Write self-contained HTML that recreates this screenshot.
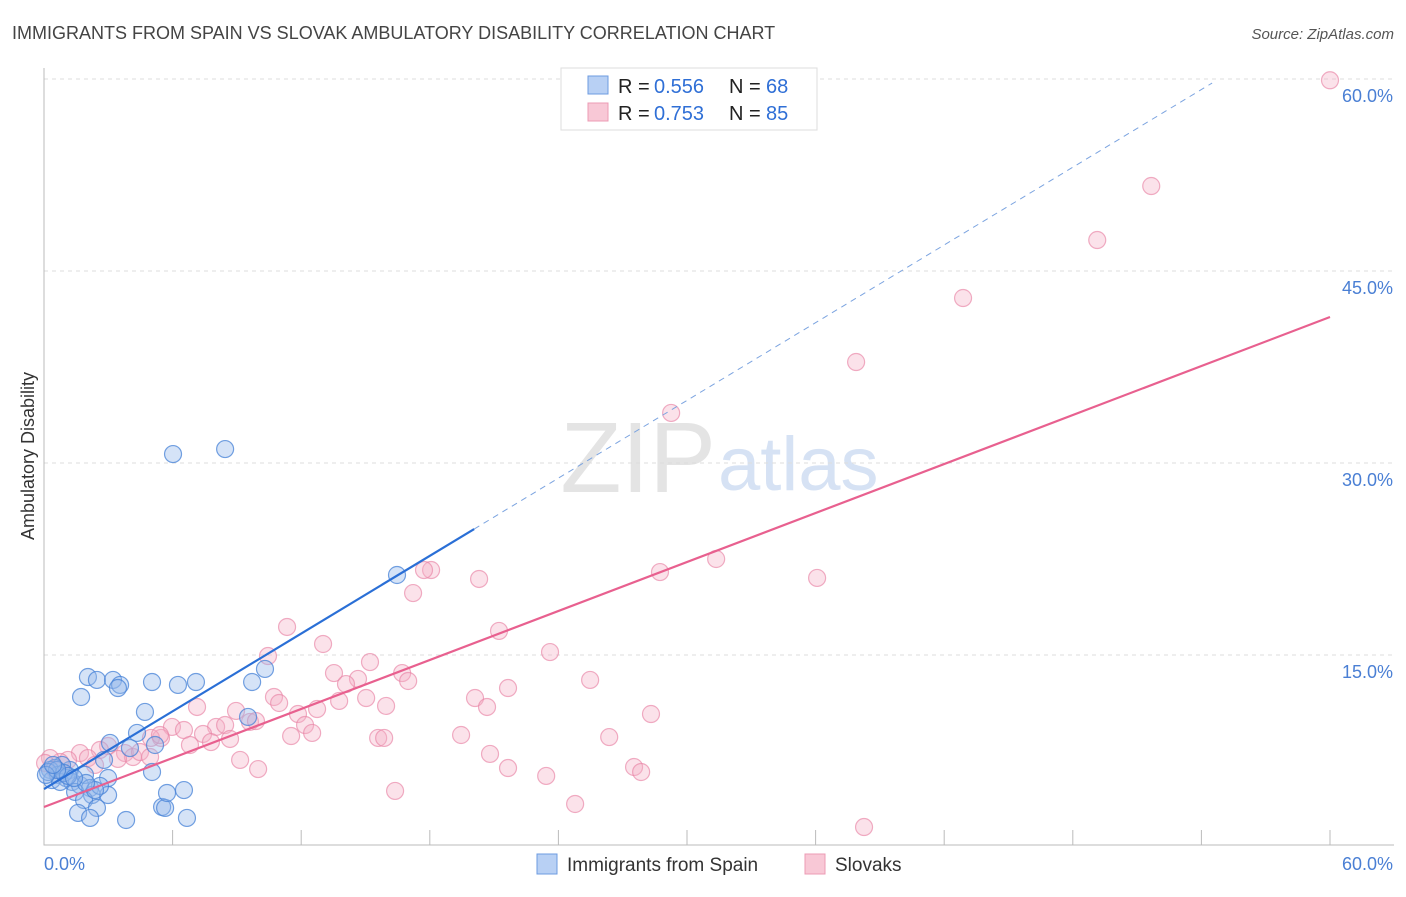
<!DOCTYPE html>
<html><head><meta charset="utf-8">
<style>
body{margin:0;background:#fff;font-family:"Liberation Sans",sans-serif;}
svg text{font-family:"Liberation Sans",sans-serif;}
</style></head>
<body>
<svg id="chart" width="1406" height="892" viewBox="0 0 1406 892" xmlns="http://www.w3.org/2000/svg">
<text x="12" y="39" font-size="18" fill="#444">IMMIGRANTS FROM SPAIN VS SLOVAK AMBULATORY DISABILITY CORRELATION CHART</text>
<text x="1394" y="39" font-size="15" fill="#555" text-anchor="end" font-style="italic">Source: ZipAtlas.com</text>
<text x="716" y="492" font-size="100" fill="#e4e4e4" text-anchor="end" font-family="Liberation Serif">ZIP</text>
<text x="718" y="490" font-size="76" fill="#d6e2f4">atlas</text>
<g id="grid"></g>
<g id="axes"></g>
<g id="marks"></g>
<text transform="translate(34,456) rotate(-90)" font-size="18" fill="#333" text-anchor="middle">Ambulatory Disability</text>
<g>
<rect x="561" y="68" width="256" height="62" fill="#fff" stroke="#ddd"/>
<rect x="588" y="76" width="20" height="18" fill="#b8d0f4" stroke="#6d9be0"/>
<rect x="588" y="103" width="20" height="18" fill="#f8c8d6" stroke="#ec9bb4"/>
<text x="618" y="93" font-size="20" fill="#222">R =</text>
<text x="654" y="93" font-size="20" fill="#2f6fd6">0.556</text>
<text x="729" y="93" font-size="20" fill="#222">N =</text>
<text x="766" y="93" font-size="20" fill="#2f6fd6">68</text>
<text x="618" y="120" font-size="20" fill="#222">R =</text>
<text x="654" y="120" font-size="20" fill="#2f6fd6">0.753</text>
<text x="729" y="120" font-size="20" fill="#222">N =</text>
<text x="766" y="120" font-size="20" fill="#2f6fd6">85</text>
</g>
<g>
<rect x="537" y="854" width="20" height="20" fill="#b8d0f4" stroke="#6d9be0"/>
<text x="567" y="871" font-size="19" fill="#333">Immigrants from Spain</text>
<rect x="805" y="854" width="20" height="20" fill="#f8c8d6" stroke="#ec9bb4"/>
<text x="835" y="871" font-size="19" fill="#333">Slovaks</text>
</g>
</svg>
<script>
const yTicks=[15,30,45,60];
const yTickLabels=["15.0%","30.0%","45.0%","60.0%"];
const xEndLabels=["0.0%","60.0%"];
const blueX=[6.02,8.45,16.47,10.31,9.71,7.09,6.25,5.04,2.05,2.47,3.22,3.55,3.45,1.73,4.71,4.34,5.18,3.08,4.01,2.80,5.04,2.99,1.21,0.84,0.51,0.28,0.65,1.03,1.31,1.68,1.91,2.15,1.45,2.24,2.99,1.87,2.47,1.59,2.15,3.83,5.51,5.65,6.67,5.74,6.53,9.52,0.37,0.75,0.19,0.93,1.12,2.61,2.38,1.96,1.40,0.61,0.09,0.42];
const blueY=[30.70,31.09,21.25,13.91,12.89,12.89,12.66,12.89,13.28,13.05,13.05,12.66,12.42,11.72,10.55,8.91,7.97,8.13,7.73,6.80,5.86,5.39,6.02,6.41,6.17,6.02,5.63,5.39,5.08,4.84,5.63,4.61,4.30,4.06,4.06,3.67,3.05,2.66,2.27,2.11,3.13,3.05,2.27,4.22,4.45,10.16,5.23,5.08,5.86,5.78,5.55,4.77,4.45,5.00,5.39,6.02,5.63,6.41];
const pinkX=[60.0,51.66,49.14,42.88,37.89,29.26,31.36,28.74,36.07,20.30,18.06,17.73,17.22,11.34,21.23,13.02,23.61,10.45,15.21,13.53,16.71,14.65,16.99,14.09,25.48,21.65,20.11,20.67,15.03,13.77,10.73,10.97,11.85,12.74,15.96,28.32,8.96,7.14,5.97,6.53,8.03,8.45,9.61,9.89,12.18,12.51,7.42,8.68,5.46,4.99,11.53,15.59,15.87,19.46,26.37,6.81,7.79,2.99,2.61,1.68,2.05,3.78,4.15,4.48,4.95,3.45,1.12,0.75,0.28,0.05,9.15,9.99,20.81,21.65,23.43,27.53,27.86,16.38,24.78,38.26,5.41,2.38,0.51];
const pinkY=[59.9,51.64,47.42,42.89,37.89,33.91,22.5,21.48,21.02,20.94,21.64,21.64,19.84,17.19,16.88,15.86,15.23,14.92,14.45,13.59,13.59,13.13,12.97,12.73,13.05,12.42,11.64,10.94,11.64,11.41,11.72,11.25,10.39,10.78,11.02,10.39,10.63,10.94,9.38,9.14,9.38,9.53,9.77,9.84,9.53,8.91,8.83,8.44,8.52,8.52,8.67,8.52,8.52,8.75,8.59,7.97,8.20,7.89,7.58,7.34,6.95,7.34,7.03,7.42,7.03,6.88,6.80,6.64,6.95,6.56,6.80,6.09,7.27,6.17,5.55,6.25,5.86,4.38,3.36,1.56,8.75,6.41,6.02];
const blueFit=[4.53,1.012];
const pinkFit=[3.125,0.638];
const NS="http://www.w3.org/2000/svg";
const sx=v=>44+v*(1286/60);
const sy=v=>847-v*12.8;
function mk(parent,tag,attrs){const e=document.createElementNS(NS,tag);for(const k in attrs)e.setAttribute(k,attrs[k]);document.getElementById(parent).appendChild(e);return e;}
yTicks.forEach((t,i)=>{
 const g=mk('grid','line',{x1:44,x2:1394,y1:sy(t),y2:sy(t),stroke:'#ddd','stroke-dasharray':'4,4'});
 
 
 const l=mk('axes','text',{x:1393,y:sy(t)+23,'font-size':18,fill:'#4a7fd4','text-anchor':'end'});
 l.textContent=yTickLabels[i];
 
 
});
const ax=mk('axes','path',{d:'M44,68 V845 H1394',stroke:'#bbb',fill:'none'});


for(let i=0;i<=10;i++){
 const t=mk('axes','line',{x1:sx(i*6),x2:sx(i*6),y1:830,y2:845,stroke:'#bbb'});
 
 
}
const xl0=mk('axes','text',{x:44,y:870,'font-size':18,fill:'#4a7fd4'});xl0.textContent=xEndLabels[0];


const xl1=mk('axes','text',{x:1393,y:870,'font-size':18,fill:'#4a7fd4','text-anchor':'end'});xl1.textContent=xEndLabels[1];


pinkX.forEach((x,i)=>{
 const c=mk('marks','circle',{cx:sx(x),cy:sy(pinkY[i]),r:8.5,fill:'rgba(245,175,198,0.36)',stroke:'rgba(232,130,165,0.65)','stroke-width':1.2});
 
 
});
blueX.forEach((x,i)=>{
 const c=mk('marks','circle',{cx:sx(x),cy:sy(blueY[i]),r:8.5,fill:'rgba(150,185,235,0.4)',stroke:'rgba(70,130,215,0.75)','stroke-width':1.2});
 
 
});
const bx1=20.07,bx2=54.5;
const bl=mk('marks','line',{x1:sx(0),y1:sy(blueFit[0]),x2:sx(bx1),y2:sy(blueFit[0]+blueFit[1]*bx1),stroke:'#2a6fd6','stroke-width':2.2});


const bd=mk('marks','line',{x1:sx(bx1),y1:sy(blueFit[0]+blueFit[1]*bx1),x2:sx(bx2),y2:sy(blueFit[0]+blueFit[1]*bx2),stroke:'#7ca4e0','stroke-width':1,'stroke-dasharray':'6,5'});


const pl=mk('marks','line',{x1:sx(0),y1:sy(pinkFit[0]),x2:sx(60),y2:sy(pinkFit[0]+pinkFit[1]*60),stroke:'#e8608f','stroke-width':2.2});


</script>
</body></html>
